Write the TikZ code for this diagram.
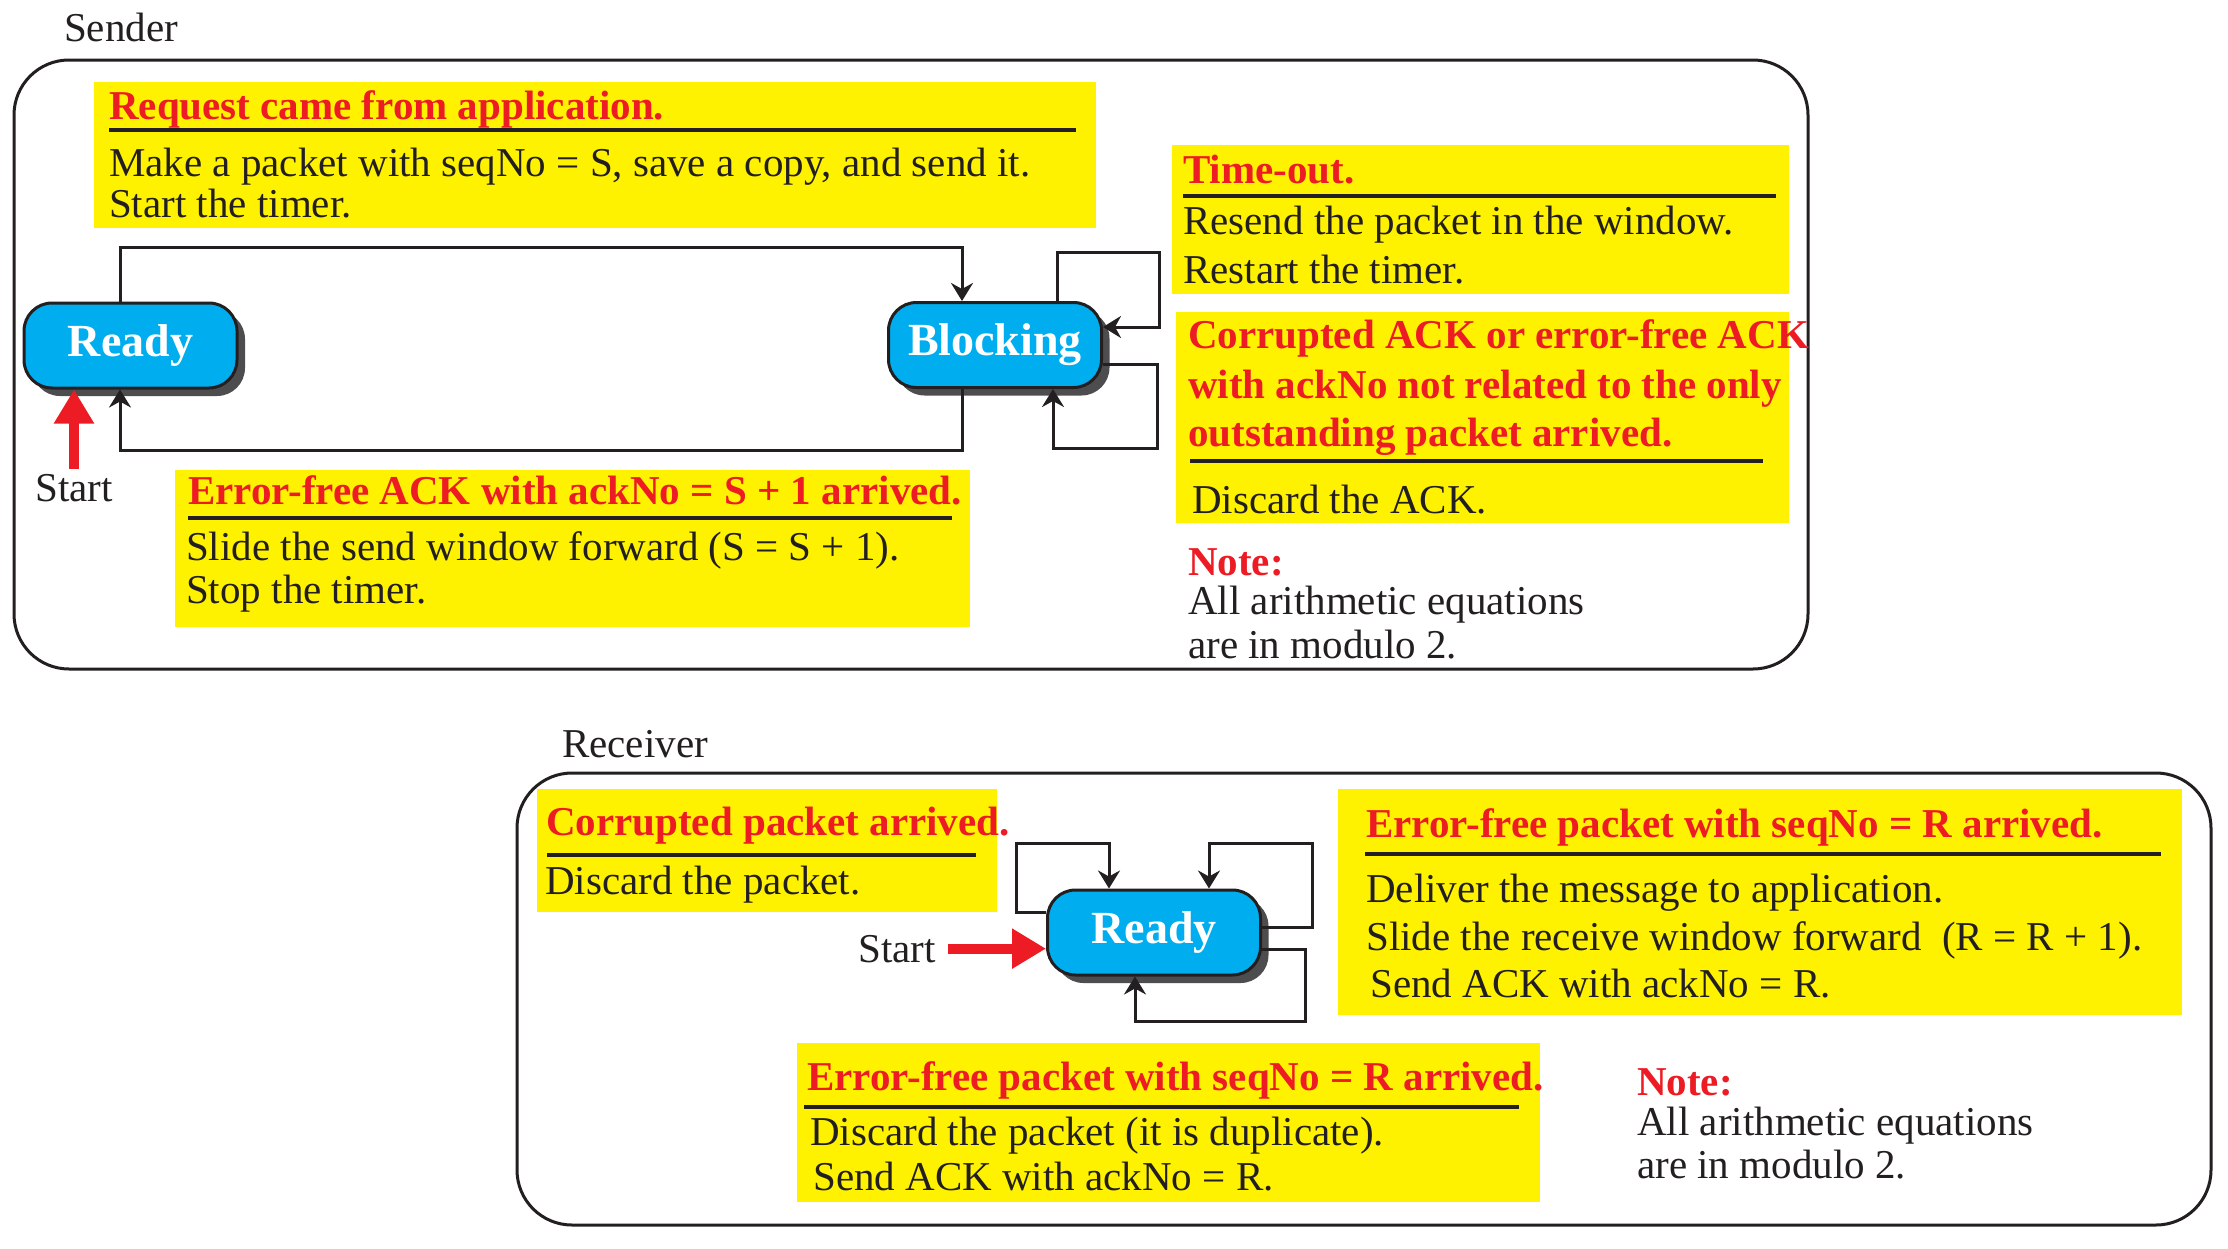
\documentclass[tikz,border=0pt]{standalone}
\usepackage{fontspec}
\setmainfont{Liberation Serif}
\usetikzlibrary{arrows.meta,shadows}
\definecolor{yel}{HTML}{FFF200}
\definecolor{rd}{HTML}{ED1C24}
\definecolor{cy}{HTML}{00AEEF}
\definecolor{shd}{HTML}{4D4D4F}
\definecolor{blk}{HTML}{231F20}
\tikzset{
  ybox/.style={fill=yel, inner sep=0pt, anchor=north west},
  ttl/.style={anchor=base west, inner sep=0pt, text=rd, font=\bfseries\fontsize{41}{43}\selectfont},
  txt/.style={anchor=base west, inner sep=0pt, text=blk, font=\fontsize{41}{43}\selectfont},
  rulel/.style={line width=3.5pt, draw=blk},
  frame/.style={line width=3pt, draw=blk, rounded corners=55pt},
  state/.style={rounded corners=28pt, fill=cy, draw=blk, line width=3pt,
    minimum width=213pt, minimum height=85pt, inner sep=0pt, text=white,
    font=\bfseries\fontsize{46}{48}\selectfont,
    drop shadow={shadow xshift=8pt, shadow yshift=-8pt, fill=shd, opacity=1}},
  arr/.style={line width=3pt, draw=blk, -{Stealth[length=18pt,width=22pt,inset=6pt]}},
  redarr/.style={line width=10pt, draw=rd, -{Triangle[length=34pt,width=38pt]}}
}
\begin{document}
\begin{tikzpicture}[x=1pt,y=-1pt]
\useasboundingbox (0,0) rectangle (2228,1248);
\fill[white] (0,0) rectangle (2228,1248);

% ---------------- Sender ----------------
\node[txt] (sendlbl) at (64,41) {Sender};
\draw[frame] (14,60) rectangle (1808,669);

\node[ybox, minimum width=1002pt, minimum height=146pt] (b1) at (94,82) {};
\node[ttl] (b1t) at (109,119) {Request came from application.};
\draw[rulel] (109,130) -- (1076,130);
\node[txt] (b1a) at (109,176) {Make a packet with seqNo = S, save a copy, and send it.};
\node[txt] (b1b) at (109,217) {Start the timer.};

\node[ybox, minimum width=795pt, minimum height=157pt] (b2) at (175,470) {};
\node[ttl] (b2t) at (188,504) {Error-free ACK with ackNo = S + 1 arrived.};
\draw[rulel] (188,518) -- (952,518);
\node[txt] (b2a) at (186,560) {Slide the send window forward (S = S + 1).};
\node[txt] (b2b) at (186,603) {Stop the timer.};

\node[ybox, minimum width=617pt, minimum height=149pt] (b3) at (1172,145) {};
\node[ttl] (b3t) at (1183,183) {Time-out.};
\draw[rulel] (1183,196) -- (1776,196);
\node[txt] (b3a) at (1183,234) {Resend the packet in the window.};
\node[txt] (b3b) at (1183,283) {Restart the timer.};

\node[ybox, minimum width=613pt, minimum height=211pt] (b4) at (1176,312) {};
\node[ttl] (b4t1) at (1188,348) {Corrupted ACK or error-free ACK};
\node[ttl] (b4t2) at (1188,398) {with ackNo not related to the only};
\node[ttl] (b4t3) at (1188,446) {outstanding packet arrived.};
\draw[rulel] (1190,461) -- (1763,461);
\node[txt] (b4a) at (1192,513) {Discard the ACK.};

\node[ttl] (sn1) at (1188,575) {Note:};
\node[txt] (sn2) at (1188,614) {All arithmetic equations};
\node[txt] (sn3) at (1188,658) {are in modulo 2.};

\node[state] (sready) at (130.5,345.5) {Ready};
\node[state] (sblock) at (995,345) {Blocking};

\draw[arr] ([xshift=-10.5pt]sready.north) -- ++(0,-54) -| ([xshift=-33pt]sblock.north);
\draw[arr] ([xshift=-33pt]sblock.south) -- ++(0,61) -| ([xshift=-10.5pt]sready.south);
\draw[arr] ([xshift=62pt]sblock.north) -- ++(0,-49) -- ++(102,0) |- ([yshift=18pt]sblock.east);
\draw[arr] ([yshift=-19pt]sblock.east) -- ++(54,0) -- ++(0,84) -| ([xshift=58pt]sblock.south);

\node[txt, anchor=base] (sstart) at (74,501) {Start};
\draw[redarr] ([yshift=5pt]sstart.north) -- (sstart.north |- sready.south);

% ---------------- Receiver ----------------
\node[txt] (reclbl) at (562,757) {Receiver};
\draw[frame] (517,773) rectangle (2211,1225);

\node[ybox, minimum width=460pt, minimum height=123pt] (r1) at (537,789) {};
\node[ttl] (r1t) at (546,835) {Corrupted packet arrived.};
\draw[rulel] (547,855) -- (976,855);
\node[txt] (r1a) at (545,894) {Discard the packet.};

\node[ybox, minimum width=844pt, minimum height=226pt] (r2) at (1338,789) {};
\node[ttl] (r2t) at (1366,837) {Error-free packet with seqNo = R arrived.};
\draw[rulel] (1365,854) -- (2161,854);
\node[txt] (r2a) at (1366,902) {Deliver the message to application.};
\node[txt] (r2b) at (1366,950) {Slide the receive window forward\ \ (R = R + 1).};
\node[txt] (r2c) at (1370,997) {Send ACK with ackNo = R.};

\node[ybox, minimum width=743pt, minimum height=159pt] (r3) at (797,1043) {};
\node[ttl] (r3t) at (807,1090) {Error-free packet with seqNo = R arrived.};
\draw[rulel] (804,1107) -- (1519,1107);
\node[txt] (r3a) at (810,1145) {Discard the packet (it is duplicate).};
\node[txt] (r3b) at (813,1190) {Send ACK with ackNo = R.};

\node[ttl] (rn1) at (1637,1095) {Note:};
\node[txt] (rn2) at (1637,1135) {All arithmetic equations};
\node[txt] (rn3) at (1637,1178) {are in modulo 2.};

\node[state] (rready) at (1154,932.5) {Ready};

\draw[arr] ([yshift=20pt]rready.west) -- ++(-30,0) -- ++(0,-69.5) -| ([xshift=-45pt]rready.north);
\draw[arr] ([yshift=5pt]rready.east) -- ++(50,0) -- ++(0,-84.5) -| ([xshift=55pt]rready.north);
\draw[arr] ([yshift=-17pt]rready.east) -- ++(43,0) -- ++(0,71.5) -| ([xshift=-19pt]rready.south);

\node[txt, anchor=base east] (rstart) at (936,962) {Start};
\draw[redarr] ([xshift=12pt]rstart.east) -- (rstart.east -| rready.west);
\end{tikzpicture}
\end{document}
